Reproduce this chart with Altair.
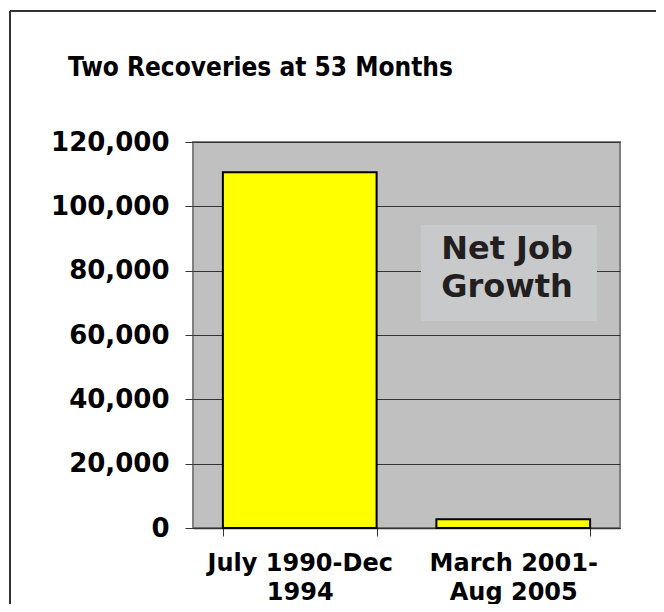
import altair as alt
import pandas as pd

# ---- data ----
categories = ["July 1990-Dec 1994", "March 2001-Aug 2005"]
label_lines = [["July 1990-Dec", "1994"], ["March 2001-", "Aug 2005"]]
job_growth = [110600, 2700]
y_ticks = [0, 20000, 40000, 60000, 80000, 100000, 120000]
title_text = "Two Recoveries at 53 Months"
note_lines = ["Net Job", "Growth"]

df = pd.DataFrame({"period": categories, "jobs": job_growth})

# multi-line axis labels built from the lists above ('' for the extra band-edge tick)
label_expr = ""
for cat, lines in zip(categories, label_lines):
    arr = "[" + ",".join("'" + s + "'" for s in lines) + "]"
    label_expr += "datum.value == '" + cat + "' ? " + arr + " : "
label_expr += "''"

W, H = 427, 386
FONT = "DejaVu Sans"

base = alt.Chart(df)

frame_top = alt.Chart(alt.Data(values=[{}])).mark_rule(
    stroke="#333333", strokeWidth=2
).encode(x=alt.value(-183), x2=alt.value(520), y=alt.value(-131))

frame_left = alt.Chart(alt.Data(values=[{}])).mark_rule(
    stroke="#333333", strokeWidth=2
).encode(x=alt.value(-183), y=alt.value(-131), y2=alt.value(520))

bars = base.mark_bar(color="#FFFF00", stroke="#000000", strokeWidth=2).encode(
    x=alt.X(
        "period:N",
        sort=categories,
        scale=alt.Scale(paddingInner=0.28, paddingOuter=0.14),
        axis=alt.Axis(
            title=None,
            labelAngle=0,
            labelFont=FONT,
            labelFontWeight="bold",
            labelFontSize=24,
            labelColor="#000000",
            labelLineHeight=29,
            labelPadding=15,
            labelLimit=400,
            labelExpr=label_expr,
            tickBand="extent",
            tickSize=8,
            tickColor="#333333",
            tickWidth=1,
            domainColor="#333333",
            domainWidth=1.5,
        ),
    ),
    y=alt.Y(
        "jobs:Q",
        scale=alt.Scale(domain=[0, 120000], nice=False),
        axis=alt.Axis(
            title=None,
            values=y_ticks,
            format=",d",
            labelFont=FONT,
            labelFontWeight="bold",
            labelFontSize=26,
            labelColor="#000000",
            labelPadding=16,
            tickSize=8,
            tickColor="#333333",
            tickWidth=1,
            domain=False,
            grid=True,
            gridColor="#333333",
            gridWidth=1,
        ),
    ),
)

note_box = alt.Chart(alt.Data(values=[{}])).mark_rect(color="#C8C9CB").encode(
    x=alt.value(228), x2=alt.value(404), y=alt.value(83), y2=alt.value(179)
)

note_text = alt.Chart(alt.Data(values=[{}])).mark_text(
    font=FONT,
    fontWeight="bold",
    fontSize=32,
    color="#231F20",
    align="center",
    baseline="alphabetic",
    lineHeight=37.7,
    text=note_lines,
).encode(x=alt.value(314), y=alt.value(117))

chart = alt.layer(bars, note_box, note_text, frame_top, frame_left).properties(
    width=W,
    height=H,
    title=alt.TitleParams(
        text=title_text,
        font="DejaVu Sans Condensed",
        fontWeight="bold",
        fontSize=26,
        color="#000000",
        anchor="middle",
        frame="group",
        baseline="alphabetic",
        dx=-146,
        offset=-92,
    ),
    autosize=alt.AutoSizeParams(type="none"),
    padding={"left": 185, "top": 134, "right": 36, "bottom": 76},
).configure(background="#FFFFFF").configure_view(
    fill="#C0C0C0", stroke="#808080", strokeWidth=2
)

chart.save("out.html", embed_options={"renderer": "svg", "actions": False})
